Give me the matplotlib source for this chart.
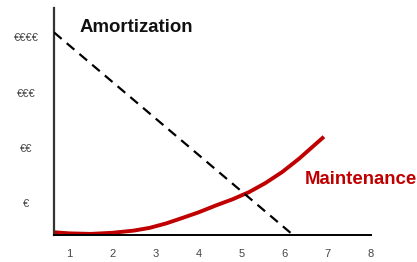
import matplotlib
matplotlib.use("Agg")
import matplotlib.pyplot as plt

plt.rcParams["font.family"] = ["Liberation Sans", "DejaVu Sans"]

# amortization: straight decline (dashed)
amort_x = [0.65, 6.15]
amort_y = [4.09, 0.45]

# maintenance: rising curve (red)
maint_x = [0.65, 1.0, 1.5, 2.0, 2.5, 2.87, 3.25, 3.63, 4.0, 4.42, 4.8, 5.18, 5.55, 5.94, 6.33, 6.91]
maint_y = [0.47, 0.45, 0.44, 0.46, 0.50, 0.55, 0.63, 0.73, 0.83, 0.96, 1.07, 1.20, 1.36, 1.56, 1.80, 2.20]

x_ticks = [1, 2, 3, 4, 5, 6, 7, 8]
y_ticks = [1, 2, 3, 4]
y_labels = ["€", "€€", "€€€", "€€€€"]

fig = plt.figure(figsize=(4.17, 2.62), dpi=100)
ax = fig.add_axes([0.1295, 0.103, 0.76, 0.866])

# dashed line sits on top of the red curve where they cross
ax.plot(maint_x, maint_y, color="#c00000", lw=2.8, solid_capstyle="butt",
        solid_joinstyle="round", zorder=2)
ax.plot(amort_x, amort_y, color="black", lw=1.6, dashes=(4.5, 3), zorder=3)

ax.set_xlim(0.65, 8)
ax.set_ylim(0.42, 4.53)
ax.set_xticks(x_ticks)
ax.set_yticks(y_ticks)
ax.set_yticklabels(y_labels)
ax.tick_params(length=0, labelsize=8, labelcolor="#444444")
ax.tick_params(axis="x", pad=10)
ax.tick_params(axis="y", pad=20)
for lab in ax.get_yticklabels():
    lab.set_horizontalalignment("center")

for s in ["top", "right"]:
    ax.spines[s].set_visible(False)
ax.spines["left"].set_color("#333333")
ax.spines["left"].set_linewidth(1.6)
ax.spines["bottom"].set_color("black")
ax.spines["bottom"].set_linewidth(1.4)

fig.text(80 / 417, 1 - 28 / 262, "Amortization", fontsize=13.4, fontweight="bold",
         color="#111111", va="center", ha="left")
fig.text(305 / 417, 1 - 180 / 262, "Maintenance", fontsize=13.4, fontweight="bold",
         color="#c00000", va="center", ha="left")

fig.savefig("out.png", dpi=100)
